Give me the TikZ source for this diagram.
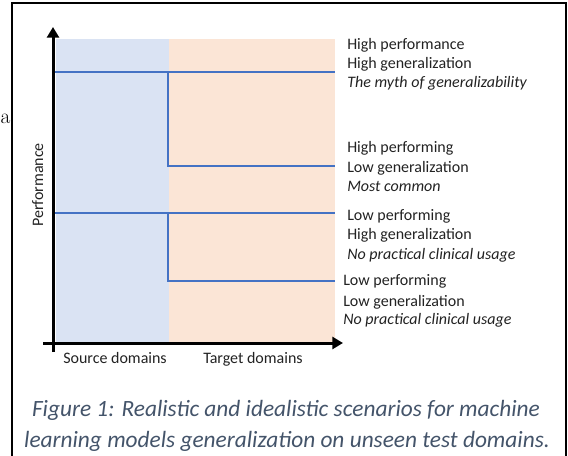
\documentclass[tikz,border=0pt]{standalone}
\usepackage{fontspec}
\setsansfont{Carlito}
\usetikzlibrary{arrows.meta}

\definecolor{srcblue}{HTML}{DAE3F3}
\definecolor{tgtorange}{HTML}{FBE5D6}
\definecolor{lineblue}{HTML}{4472C4}
\definecolor{capgray}{HTML}{44546A}
\definecolor{txtgray}{HTML}{222222}

\begin{document}
\begin{tikzpicture}[x=0.75pt, y=-0.75pt,
  font=\sffamily\fontsize{12}{14}\selectfont,
  lbl/.style={anchor=base west, inner sep=0pt, text=txtgray},
  curve/.style={lineblue, line width=1.5pt},
  axis/.style={line width=2.25pt, -{Triangle[length=8pt,width=9pt]}}]

\useasboundingbox (0,0) rectangle (568,456);

\node[anchor=base west, inner sep=0pt, font=\rmfamily\fontsize{16}{19}\selectfont] (stray) at (0.3,124) {a};

\draw[line width=1.5pt] (11.5,470) -- (11.5,3) -- (566,3) -- (566,470);

\fill[srcblue] (56,39) rectangle (169,343);
\fill[tgtorange] (169,39) rectangle (335,343);

\coordinate (a1) at (55,72);
\coordinate (a2) at (168,72);
\coordinate (a3) at (335,72);
\coordinate (a4) at (168,166);
\coordinate (a5) at (335,166);
\draw[curve] (a1) -- (a3);
\draw[curve] (a2) -- (a4) -- (a5);

\coordinate (b1) at (55,213);
\coordinate (b2) at (168,213);
\coordinate (b3) at (335,213);
\coordinate (b4) at (168,281);
\coordinate (b5) at (335,281);
\draw[curve] (b1) -- (b3);
\draw[curve] (b2) -- (b4) -- (b5);

\coordinate (ybot) at (53,352);
\coordinate (ytop) at (53,27);
\coordinate (xleft) at (43,343);
\coordinate (xright) at (343,343);
\draw[axis] (ybot) -- (ytop);
\draw[axis] (xleft) -- (xright);

\node[rotate=90, anchor=base, inner sep=0pt, text=txtgray] (perf) at (43,185) {Performance};
\node[lbl] (src) at (63,363) {Source domains};
\node[lbl] (tgt) at (203,363) {Target domains};

\node[lbl] (hp1) at (347,50) {High performance};
\node[lbl] (hg1) at (347,69) {High generalization};
\node[lbl] (myth) at (347,88) {\itshape The myth of generalizability};

\node[lbl] (hp2) at (347,153) {High performing};
\node[lbl] (lg2) at (347,173) {Low generalization};
\node[lbl] (common) at (347,192) {\itshape Most common};

\node[lbl] (lp3) at (347,221) {Low performing};
\node[lbl] (hg3) at (347,240) {High generalization};
\node[lbl] (nouse3) at (347,259) {\itshape No practical clinical usage};

\node[lbl] (lp4) at (343,286) {Low performing};
\node[lbl] (lg4) at (343,306) {Low generalization};
\node[lbl] (nouse4) at (343,325) {\itshape No practical clinical usage};

\node[anchor=base, inner sep=0pt, text=capgray, font=\sffamily\itshape\fontsize{17.5}{23}\selectfont] (cap1) at (286,416) {Figure 1: Realistic and idealistic scenarios for machine};
\node[anchor=base, inner sep=0pt, text=capgray, font=\sffamily\itshape\fontsize{17.5}{23}\selectfont] (cap2) at (287,447) {learning models generalization on unseen test domains.};

\end{tikzpicture}
\end{document}
